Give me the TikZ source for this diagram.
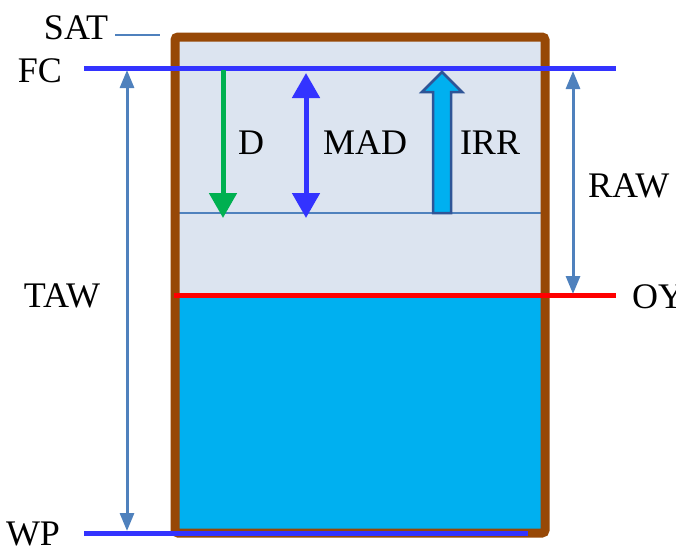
\documentclass[tikz,border=0pt]{standalone}
\usepackage{fontspec}
\setmainfont{Liberation Serif}
\usetikzlibrary{arrows.meta}
\definecolor{soilbrown}{HTML}{974806}
\definecolor{paleblue}{HTML}{DCE4F0}
\definecolor{waterblue}{HTML}{00B0F0}
\definecolor{lineblue}{HTML}{3333FF}
\definecolor{steel}{HTML}{4F81BD}
\definecolor{darkedge}{HTML}{2F5597}
\definecolor{greenarrow}{HTML}{00B050}
\tikzset{
  lbl/.style={font=\fontsize{36}{40}\selectfont, inner sep=0pt},
  dimarrow/.style={steel, line width=3, {Triangle[width=14pt,length=18pt]}-{Triangle[width=14pt,length=18pt]}},
  level/.style={line width=5},
}
\begin{document}
\begin{tikzpicture}[x=1pt,y=-1pt]
\clip (0,0) rectangle (676,555);
\useasboundingbox (0,0) rectangle (676,555);
% fills
\fill[paleblue] (175,37) rectangle (545,295);
\fill[waterblue] (175,295) rectangle (545,533);
% thin MAD level line
\coordinate (madL) at (175,213);
\coordinate (madR) at (541,213);
\draw[steel, line width=1.5] (madL) -- (madR);
% box border
\draw[soilbrown, line width=9, rounded corners=3] (175,37) rectangle (545,533);
% levels
\coordinate (fcL) at (84,68);
\coordinate (fcR) at (616,68);
\draw[lineblue, level] (fcL) -- (fcR);
\coordinate (oyL) at (174,295);
\coordinate (oyR) at (616,295);
\draw[red, level] (oyL) -- (oyR);
\coordinate (wpL) at (84,533);
\coordinate (wpR) at (528,533);
\draw[lineblue, level] (wpL) -- (wpR);
\coordinate (satL) at (115,35);
\coordinate (satR) at (160,35);
\draw[steel, line width=1.2] (satL) -- (satR);
% labels
\node[lbl] (sat) at (76,28) {SAT};
\node[lbl] (fc) at (40,71) {FC};
\node[lbl] (taw) at (62,296) {TAW};
\node[lbl] (wp) at (33,534) {WP};
\node[lbl, anchor=west] (oy) at (632,297) {OY};
\node[lbl, anchor=west] (raw) at (588,186) {RAW};
\node[lbl] (d) at (251,143) {D};
\node[lbl] (mad) at (365,143) {MAD};
\node[lbl] (irr) at (490,143) {IRR};
% dimension arrows
\coordinate (tawT) at (127,70);
\coordinate (tawB) at (127,531);
\draw[dimarrow] (tawT) -- (tawB);
\coordinate (rawT) at (573,71);
\coordinate (rawB) at (573,294);
\draw[dimarrow] (rawT) -- (rawB);
% D arrow
\coordinate (dT) at (223,70);
\coordinate (dB) at (223,218);
\draw[greenarrow, line width=5, -{Triangle[width=27pt,length=25pt]}] (dT) -- (dB);
% MAD arrow
\coordinate (mT) at (306,73);
\coordinate (mB) at (306,218);
\draw[lineblue, line width=5, {Triangle[width=27pt,length=25pt]}-{Triangle[width=27pt,length=25pt]}] (mT) -- (mB);
% IRR block arrow
\draw[darkedge, fill=waterblue, line width=2.5, line join=miter]
  (433,213) -- (433,92) -- (422,92) -- (442,72) -- (462,92) -- (451,92) -- (451,213) -- cycle;
\end{tikzpicture}
\end{document}
